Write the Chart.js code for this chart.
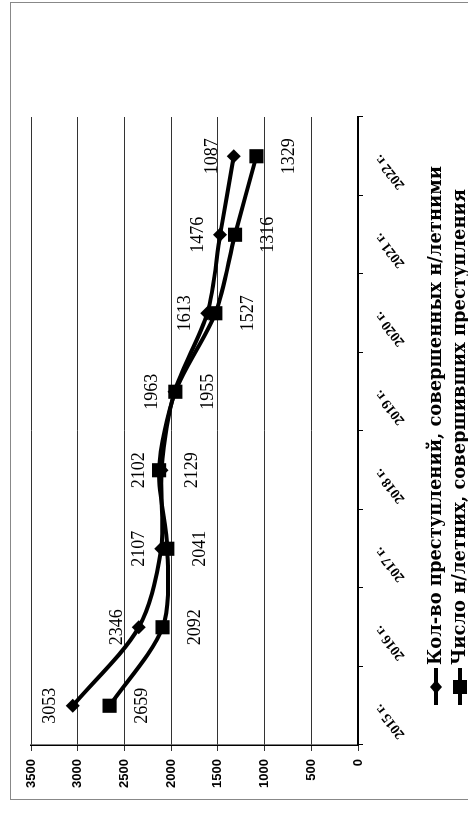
<!DOCTYPE html>
<html>
<head>
<meta charset="utf-8">
<script src="https://cdn.jsdelivr.net/npm/chart.js@4.4.1/dist/chart.umd.min.js"></script>
<style>
  html, body { margin: 0; padding: 0; background: #fff; overflow: hidden; }
  /* the source chart is a scan turned on its side */
  #wrap {
    position: absolute; left: 0; top: 0;
    width: 825px; height: 468px;
    transform-origin: 0 0;
    transform: translateY(825px) rotate(-90deg);
  }
</style>
</head>
<body>
<div id="wrap"><canvas id="chart" width="825" height="468"></canvas></div>
<script>
const years = ['2015 г.', '2016 г.', '2017 г.', '2018 г.', '2019 г.', '2020 г.', '2021 г.', '2022 г.'];
const crimes = [3053, 2346, 2107, 2102, 1963, 1613, 1476, 1329];
const juveniles = [2659, 2092, 2041, 2129, 1955, 1527, 1316, 1087];
// numbers printed next to the points, as they appear on the scan
const crimesText = ['3053', '2346', '2107', '2102', '1963', '1613', '1476', '1087'];
const juvenilesText = ['2659', '2092', '2041', '2129', '1955', '1527', '1316', '1329'];
const seriesNames = [
  'Кол-во преступлений, совершенных н/летними',
  'Число н/летних, совершивших преступления'
];
const yMin = 0, yMax = 3500, yStep = 500;

const frame = {
  id: 'frame',
  beforeDraw(chart) {
    const ctx = chart.ctx;
    ctx.save();
    ctx.fillStyle = '#fff';
    ctx.fillRect(0, 0, chart.width, chart.height);
    ctx.strokeStyle = '#888';
    ctx.lineWidth = 1;
    ctx.strokeRect(25.5, 10.5, 797, 480);
    ctx.restore();
  }
};

const pointText = {
  id: 'pointText',
  afterDatasetsDraw(chart) {
    const ctx = chart.ctx;
    ctx.save();
    ctx.font = '18px "Liberation Serif"';
    ctx.fillStyle = '#000';
    ctx.textAlign = 'center';
    ctx.textBaseline = 'middle';
    chart.data.datasets.forEach((ds, i) => {
      chart.getDatasetMeta(i).data.forEach((pt, j) => {
        ctx.fillText(ds.pointText[j], pt.x, pt.y + ds.textOffset);
      });
    });
    ctx.restore();
  }
};

function marker(ctx, style, x, y) {
  ctx.beginPath();
  if (style === 'rect') {
    ctx.rect(x - 7, y - 7, 14, 14);
  } else {
    ctx.moveTo(x - 7, y); ctx.lineTo(x, y - 6); ctx.lineTo(x + 7, y); ctx.lineTo(x, y + 6);
    ctx.closePath();
  }
  ctx.fill();
}

const bottomLegend = {
  id: 'bottomLegend',
  afterDraw(chart) {
    const ctx = chart.ctx;
    ctx.save();
    ctx.fillStyle = '#000';
    ctx.strokeStyle = '#000';
    ctx.lineWidth = 4;
    // size the bold serif so the first entry spans the same width as on the scan
    ctx.font = 'bold 20px "DejaVu Serif"';
    const w = ctx.measureText(chart.data.datasets[0].label).width;
    const size = Math.min(22, 20 * 500 / w);
    ctx.font = 'bold ' + size.toFixed(1) + 'px "DejaVu Serif"';
    ctx.textBaseline = 'middle';
    chart.data.datasets.forEach((ds, i) => {
      const y = 436 + i * 24;
      ctx.beginPath();
      ctx.moveTo(120, y); ctx.lineTo(157, y);
      ctx.stroke();
      marker(ctx, ds.pointStyle, 138, y);
      ctx.fillText(ds.label, 160, y);
    });
    ctx.restore();
  }
};

new Chart(document.getElementById('chart'), {
  type: 'line',
  data: {
    labels: years,
    datasets: [
      {
        label: seriesNames[0],
        data: crimes,
        pointText: crimesText,
        textOffset: -22,
        borderColor: '#000',
        backgroundColor: '#000',
        borderWidth: 4,
        tension: 0.3,
        pointStyle: 'rectRot',
        pointRadius: 7,
        pointBorderWidth: 0
      },
      {
        label: seriesNames[1],
        data: juveniles,
        pointText: juvenilesText,
        textOffset: 33,
        borderColor: '#000',
        backgroundColor: '#000',
        borderWidth: 4,
        tension: 0.3,
        pointStyle: 'rect',
        pointRadius: 10,
        pointBorderWidth: 0
      }
    ]
  },
  options: {
    responsive: false,
    animation: false,
    devicePixelRatio: 1,
    layout: { padding: { left: 25, right: 117, top: 31, bottom: 0 } },
    plugins: {
      legend: { display: false },
      tooltip: { enabled: false }
    },
    scales: {
      x: {
        offset: true,
        afterFit: s => { s.height = 110; },
        grid: { drawOnChartArea: false, offset: true, color: '#000', tickLength: 5 },
        border: { color: '#000', width: 2 },
        ticks: {
          autoSkip: false, minRotation: 38, maxRotation: 38, padding: 8,
          color: '#000', font: { family: 'Liberation Serif', size: 14, weight: 'bold' }
        }
      },
      y: {
        min: yMin,
        max: yMax,
        afterFit: s => { s.width = 55; },
        grid: { color: '#333', lineWidth: 1, tickLength: 6 },
        border: { color: '#000', width: 1.5 },
        ticks: {
          stepSize: yStep, padding: 8,
          callback: v => String(v),
          color: '#000', font: { family: 'Liberation Sans', size: 13, weight: 'bold' }
        }
      }
    }
  },
  plugins: [frame, pointText, bottomLegend]
});
</script>
</body>
</html>
